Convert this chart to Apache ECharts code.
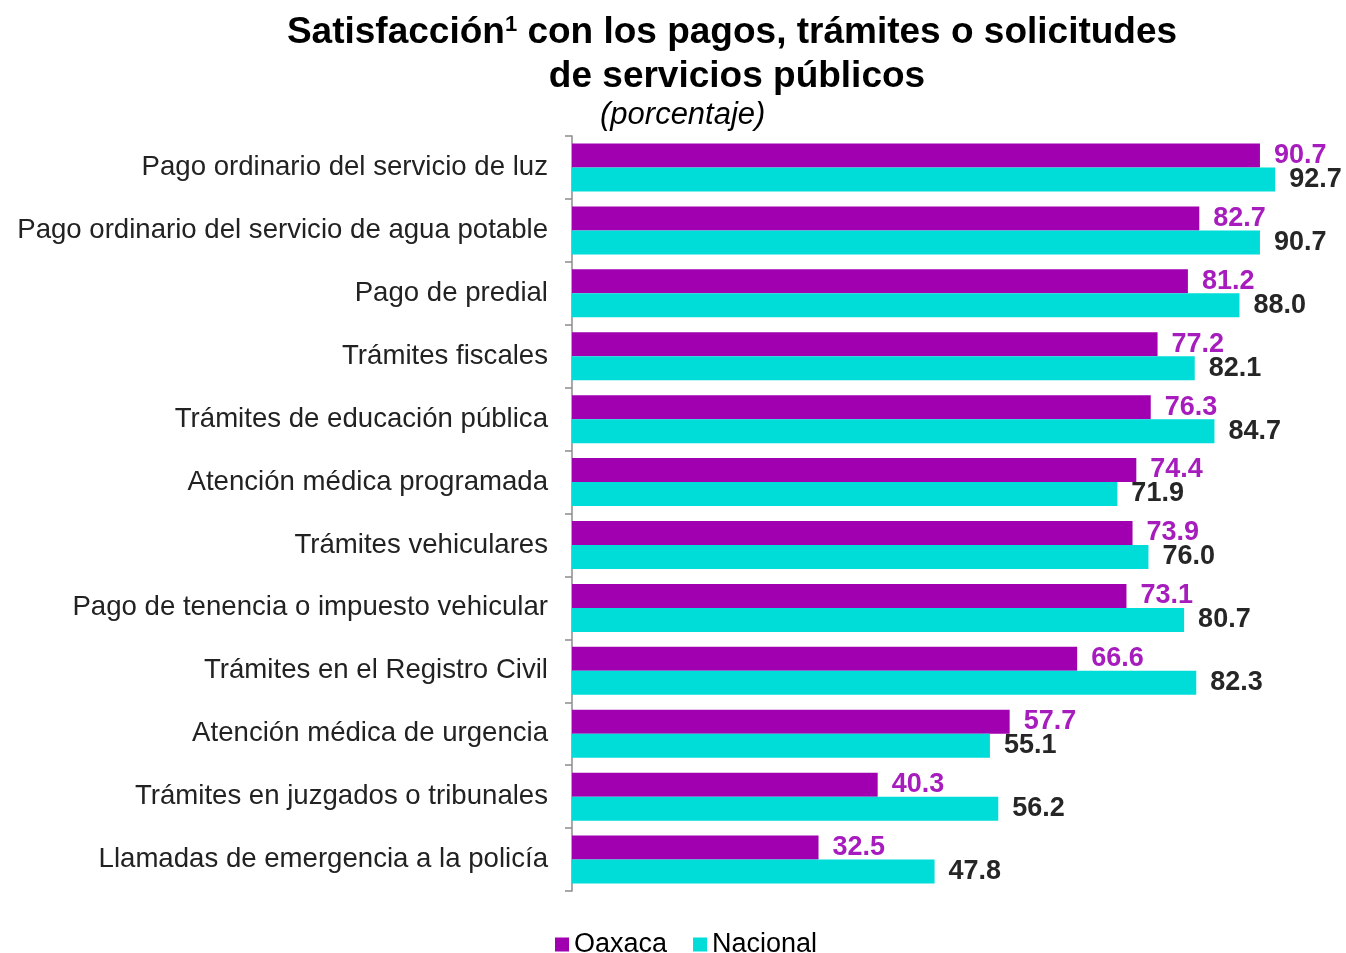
<!DOCTYPE html>
<html>
<head>
<meta charset="utf-8">
<script src="https://cdn.jsdelivr.net/npm/echarts@6/dist/echarts.min.js"></script>
<style>
html,body{margin:0;padding:0;background:#fff;}
#main{width:1346px;height:953px;}
</style>
</head>
<body>
<div id="main"></div>
<script>
var categories=["Pago ordinario del servicio de luz","Pago ordinario del servicio de agua potable","Pago de predial","Trámites fiscales","Trámites de educación pública","Atención médica programada","Trámites vehiculares","Pago de tenencia o impuesto vehicular","Trámites en el Registro Civil","Atención médica de urgencia","Trámites en juzgados o tribunales","Llamadas de emergencia a la policía"];
var oaxaca=[90.7,82.7,81.2,77.2,76.3,74.4,73.9,73.1,66.6,57.7,40.3,32.5];
var nacional=[92.7,90.7,88.0,82.1,84.7,71.9,76.0,80.7,82.3,55.1,56.2,47.8];

var FONT="Liberation Sans";
var myChart=echarts.init(document.getElementById('main'));

var options={
    backgroundColor:"#fff",
    textStyle:{fontFamily:FONT},
    title:[
        {
            text:"{a|Satisfacción}{s|1}{a| con los pagos, trámites o solicitudes}",
            left:727,textAlign:"center",top:9,
            textStyle:{
                rich:{
                    a:{fontFamily:FONT,fontSize:37,fontWeight:"bold",color:"#000"},
                    s:{fontFamily:FONT,fontSize:22,fontWeight:"bold",color:"#000",verticalAlign:"top",padding:[0,0,14,0]}
                }
            }
        },
        {
            text:"de servicios públicos",
            left:732,textAlign:"center",top:53,
            textStyle:{fontFamily:FONT,fontSize:37,fontWeight:"bold",color:"#000"}
        },
        {
            text:"(porcentaje)",
            left:595,top:95,
            textStyle:{fontFamily:FONT,fontSize:31,fontStyle:"italic",fontWeight:"normal",color:"#000"}
        }
    ],
    legend:{
        top:926,left:550,
        itemWidth:14,itemHeight:14,itemGap:26,
        icon:"rect",
        textStyle:{fontFamily:FONT,fontSize:27,color:"#000",padding:[0,0,0,0]},
        data:["Oaxaca","Nacional"]
    },
    grid:{left:572,right:15.5,top:136,bottom:62,containLabel:false},
    xAxis:{
        type:"value",min:0,max:100,
        show:false
    },
    yAxis:{
        type:"category",
        inverse:true,
        data:categories,
        axisLine:{show:true,lineStyle:{color:"#8c8c8c",width:1.5}},
        axisTick:{show:true,length:7,lineStyle:{color:"#8c8c8c",width:1.5}},
        axisLabel:{fontFamily:FONT,fontSize:27.6,color:"#222",margin:24}
    },
    series:[
        {
            name:"Oaxaca",type:"bar",
            barWidth:24,barGap:"0%",
            itemStyle:{color:"#a000b0"},
            label:{
                show:true,position:"right",distance:14,
                fontFamily:FONT,fontSize:27,fontWeight:"bold",color:"#a61cbd",
                formatter:function(p){return p.value.toFixed(1);}
            },
            data:oaxaca
        },
        {
            name:"Nacional",type:"bar",
            barWidth:24,
            itemStyle:{color:"#00dcd8"},
            label:{
                show:true,position:"right",distance:14,
                fontFamily:FONT,fontSize:27,fontWeight:"bold",color:"#262626",
                formatter:function(p){return p.value.toFixed(1);}
            },
            data:nacional
        }
    ]
};
myChart.setOption(options);
</script>
</body>
</html>
